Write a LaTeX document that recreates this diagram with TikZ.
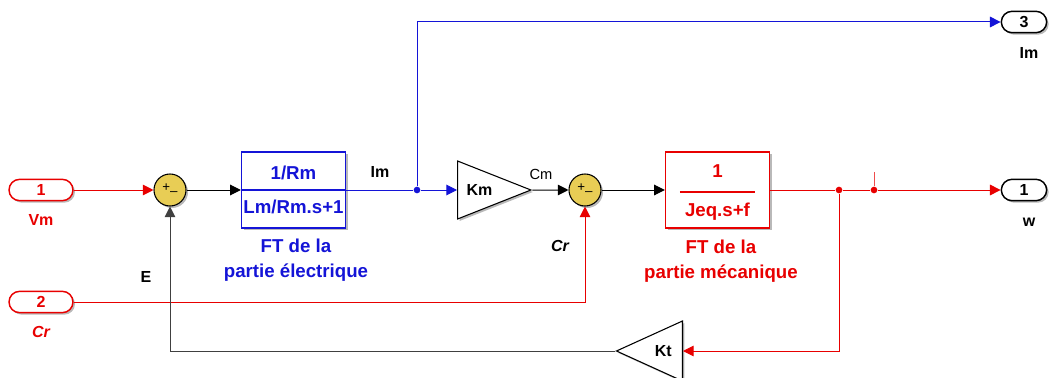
\documentclass[tikz,border=0pt]{standalone}
\usepackage{fontspec}
\setmainfont{Liberation Sans}
\usetikzlibrary{arrows.meta,shapes.geometric,shadows}
\definecolor{simred}{RGB}{232,0,0}
\definecolor{simblue}{RGB}{20,20,215}
\definecolor{simyellow}{RGB}{232,205,85}
\definecolor{simshade}{RGB}{185,185,185}
\tikzset{
	sig/.style={line width=0.75pt},
	tip/.style={-{Triangle[length=8pt,width=8pt]}},
	shade/.style={drop shadow={shadow xshift=1.5pt, shadow yshift=-1.5pt, fill=simshade, opacity=1}},
	inport/.style={draw=simred, text=simred, fill=white, rounded corners=8pt, line width=1.1pt, minimum width=48pt, minimum height=16pt, inner sep=0pt, font=\bfseries\fontsize{12}{12}\selectfont, shade},
	outport/.style={inport, draw=black, text=black, minimum width=34pt},
	sumblk/.style={circle, draw, fill=simyellow, minimum size=24pt, inner sep=0pt, line width=0.8pt, font=\fontsize{10}{10}\selectfont, shade},
	tfblk/.style={draw, fill=white, line width=1.1pt, minimum width=78pt, minimum height=57pt, inner sep=0pt, align=center, font=\bfseries\fontsize{14}{25}\selectfont, shade},
	gainblk/.style={isosceles triangle, isosceles triangle stretches, draw, fill=white, line width=0.8pt, inner sep=0pt, font=\bfseries\fontsize{12}{12}\selectfont, shade},
	dot/.style={circle, fill, inner sep=0pt, minimum size=5pt},
	biglabel/.style={font=\bfseries\fontsize{14}{19}\selectfont, align=center},
	smalllabel/.style={font=\bfseries\fontsize{12}{12}\selectfont}
}

\begin{document}
\begin{tikzpicture}[x=0.75pt,y=-0.75pt]

		\useasboundingbox (0,0) rectangle (1049,378);

		\node[inport] (in1) at (41,190) {1};
		\node[inport] (in2) at (41,302) {2};
		\node[outport] (out3) at (1024,22) {3};
		\node[outport] (out1) at (1024,190) {1};

		\node[sumblk] (s1) at (170,190) {+\raisebox{-3pt}{--}};
		\node[sumblk] (s2) at (585,190) {+\raisebox{-3pt}{--}};

		\node[tfblk, draw=simblue, text=simblue] (b1) at (293.5,190) {1/Rm\\Lm/Rm.s+1};
		\draw[simblue, line width=1.1pt] (b1.west) -- (b1.east);
		\node[tfblk, draw=simred, text=simred] (b2) at (717.5,190) {\arrayrulewidth=1.3pt\begin{tabular}{@{\hspace{4pt}}c@{\hspace{4pt}}}1\\[3pt]\hline\rule{0pt}{17pt}Jeq.s+f\end{tabular}};

		\node[gainblk, minimum width=43.5pt, minimum height=55pt, anchor=west] (km) at (457,190) {Km};
		\node[gainblk, shape border rotate=180, minimum width=45pt, minimum height=49.5pt, anchor=east] (kt) at (683,351) {Kt};

		\node[dot, simblue] (d1) at (417,190) {};
		\node[dot, simred] (d2) at (839,190) {};
		\node[dot, simred] (d3) at (874,190) {};
		\coordinate (stub) at (874,172);

		\draw[sig, simred, tip] (in1) -- (s1);
		\draw[sig, tip] (s1) -- (b1);
		\draw[sig, simblue] (b1) -- (d1);
		\draw[sig, simblue, tip] (d1) -- (km.west);
		\draw[sig, simblue, tip] (d1) |- (out3);
		\draw[sig, tip] (km.apex) -- (s2);
		\draw[sig, tip] (s2) -- (b2);
		\draw[sig, simred] (b2) -- (d2) -- (d3);
		\draw[sig, simred, tip] (d3) -- (out1);
		\draw[sig, simred!70] (d3) -- (stub);
		\draw[sig, simred, tip] (d2) |- (kt.east);
		\draw[sig, simred, tip] (in2) -| (s2);
		\draw[sig, black!75, tip] (kt.apex) -| (s1);

		\node[smalllabel, simred] (vm) at (41,220) {Vm};
		\node[smalllabel, simred] (cr) at (41,332) {\itshape Cr};
		\node[smalllabel] (e) at (146,277) {E};
		\node[smalllabel] (im) at (380,172) {Im};
		\node[font=\fontsize{11}{11}\selectfont] (cm) at (541,174) {Cm};
		\node[smalllabel] (crs) at (560,246) {\itshape Cr};
		\node[smalllabel] (imo) at (1029,53) {Im};
		\node[smalllabel] (w) at (1029,222) {w};
		\node[biglabel, simblue] (fte) at (296,260) {FT de la\\partie électrique};
		\node[biglabel, simred] (ftm) at (721,261) {FT de la\\partie mécanique};

	\end{tikzpicture}
\end{document}
